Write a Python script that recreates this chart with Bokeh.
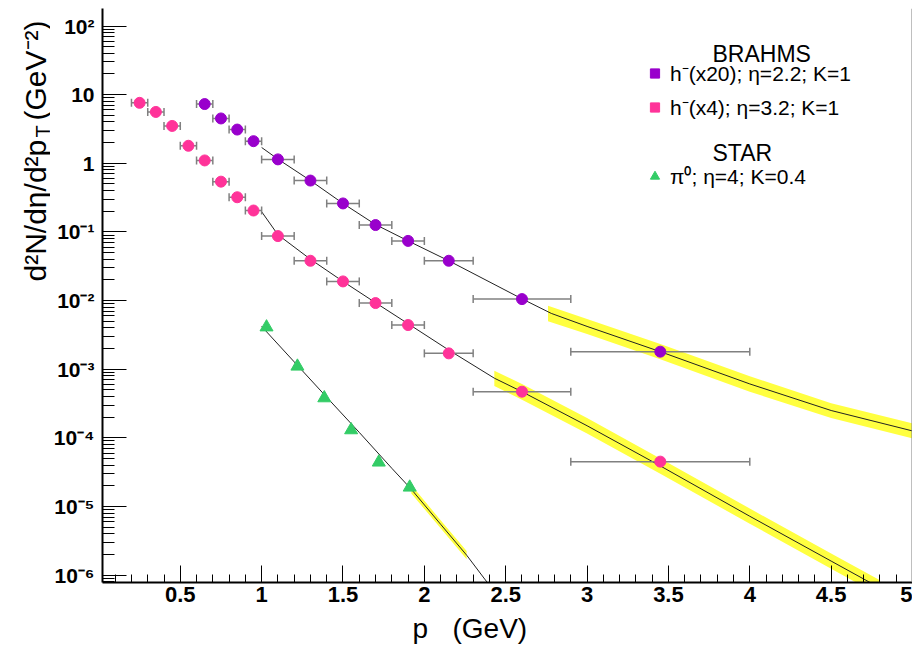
import math
from bokeh.plotting import figure
from bokeh.layouts import row, column
from bokeh.models import (Range1d, FixedTicker, CustomJSTickFormatter, Label,
                          Legend, LegendItem, Span)
from bokeh.embed import file_html
from bokeh.resources import INLINE

# ---------------- data ----------------
# BRAHMS h- (x20), eta = 2.2
h20_pt = [0.65, 0.75, 0.85, 0.95, 1.1, 1.3, 1.5, 1.7, 1.9, 2.15, 2.6, 3.45]
h20_y = [7.3, 4.5, 3.1, 2.1, 1.14, 0.56, 0.26, 0.126, 0.074, 0.038, 0.0105, 0.0018]
h20_xerr = [0.05, 0.05, 0.05, 0.05, 0.1, 0.1, 0.1, 0.1, 0.1, 0.15, 0.3, 0.55]

# BRAHMS h- (x4), eta = 3.2
h4_pt = [0.25, 0.35, 0.45, 0.55, 0.65, 0.75, 0.85, 0.95, 1.1, 1.3, 1.5, 1.7,
         1.9, 2.15, 2.6, 3.45]
h4_y = [7.6, 5.6, 3.5, 1.8, 1.1, 0.54, 0.32, 0.205, 0.087, 0.038, 0.019, 0.0092,
        0.0044, 0.0017, 0.00047, 0.000045]
h4_xerr = [0.05, 0.05, 0.05, 0.05, 0.05, 0.05, 0.05, 0.05, 0.1, 0.1, 0.1, 0.1,
           0.1, 0.15, 0.3, 0.55]

# STAR pi0, eta = 4
pi0_pt = [1.03, 1.22, 1.385, 1.55, 1.72, 1.91]
pi0_y = [4.1e-3, 1.1e-3, 3.8e-4, 1.3e-4, 4.4e-5, 1.9e-5]

# theory curves
fit20_x = [1.0, 1.1, 1.3, 1.5, 1.7, 1.9, 2.15, 2.6, 2.78, 3.0, 3.45, 4.0, 4.5, 5.0]
fit20_y = [1.7, 1.15, 0.56, 0.26, 0.128, 0.074, 0.038, 0.0106, 6.5e-3, 4.2e-3,
           1.8e-3, 6.1e-4, 2.5e-4, 1.26e-4]
fit4_x = [1.0, 1.1, 1.3, 1.5, 1.7, 1.9, 2.15, 2.43, 2.6, 3.0, 3.45, 4.0, 4.5, 4.8]
fit4_y = [0.197, 0.091, 0.040, 0.019, 9.3e-3, 4.6e-3, 1.9e-3, 7.4e-4, 4.7e-4,
          1.5e-4, 3.9e-5, 7.2e-6, 1.6e-6, 6.5e-7]
fitpi_x = [1.0, 1.2, 1.4, 1.6, 1.8, 1.92, 2.1, 2.26, 2.4]
fitpi_y = [4.2e-3, 1.28e-3, 3.9e-4, 1.2e-4, 3.6e-5, 1.78e-5, 5.5e-6, 1.95e-6, 7.1e-7]

# uncertainty bands
band20_x = [2.76, 3.0, 3.45, 4.0, 4.5, 5.0]
band20_lo = [5.0e-3, 3.26e-3, 1.40e-3, 4.7e-4, 1.94e-4, 0.98e-4]
band20_hi = [8.4e-3, 5.4e-3, 2.32e-3, 7.9e-4, 3.2e-4, 1.62e-4]
band4_x = [2.43, 2.6, 3.0, 3.45, 4.0, 4.5, 4.8]
band4_lo = [5.7e-4, 3.6e-4, 1.16e-4, 3.0e-5, 5.6e-6, 1.24e-6, 5.0e-7]
band4_hi = [9.5e-4, 6.1e-4, 1.94e-4, 5.0e-5, 9.3e-6, 2.06e-6, 8.4e-7]
bandpi_x = [1.92, 2.1, 2.26]
bandpi_lo = [1.55e-5, 4.8e-6, 1.7e-6]
bandpi_hi = [2.05e-5, 6.3e-6, 2.25e-6]

# ticks / labels
xtick_values = [0.5, 1.0, 1.5, 2.0, 2.5, 3.0, 3.5, 4.0, 4.5, 5.0]
xtick_labels = ["0.5", "1", "1.5", "2", "2.5", "3", "3.5", "4", "4.5", "5"]
ytick_values = [1e-6, 1e-5, 1e-4, 1e-3, 1e-2, 1e-1, 1.0, 10.0, 100.0]
ytick_labels = ["10⁻⁶", "10⁻⁵", "10⁻⁴", "10⁻³", "10⁻²", "10⁻¹", "1", "10", "10²"]
legend_headers = ["BRAHMS", "STAR"]
legend_labels = ["h⁻(x20); η=2.2; K=1", "h⁻(x4); η=3.2; K=1", "π⁰; η=4; K=0.4"]
x_title = ["p", "(GeV)"]
y_title = ["d²N/dη/d²p", "T", "(GeV⁻²)"]

# ---------------- style ----------------
PURPLE = "#9900cc"
PINK = "#ff3399"
GREEN = "#33cc66"
YELLOW = "#ffff40"
GRAY = "#808080"
FONT = "Liberation Sans"

TOP_H = 612
LEFT_W = 50
TOTAL_W = 912

p = figure(width=TOTAL_W - LEFT_W, height=TOP_H, x_range=Range1d(0.022, 5.0),
           y_range=Range1d(7.8e-7, 180), y_axis_type="log",
           output_backend="svg", toolbar_location=None,
           min_border_left=50, min_border_right=0, min_border_top=8,
           min_border_bottom=30, outline_line_color=None,
           background_fill_color="white", border_fill_color="white")
p.grid.visible = False

xminor = [round(0.1 * k, 1) for k in range(1, 50) if k % 5 != 0]
yminor = [m * 10.0 ** e for e in range(-7, 3) for m in range(2, 10)]

xax = p.xaxis[0]
xax.ticker = FixedTicker(ticks=xtick_values, minor_ticks=xminor)
xax.formatter = CustomJSTickFormatter(
    args=dict(vals=xtick_values, labs=xtick_labels),
    code="for (let i = 0; i < vals.length; i++) { if (Math.abs(tick - vals[i]) < 1e-9) return labs[i]; } return '';")
yax = p.yaxis[0]
yax.ticker = FixedTicker(ticks=ytick_values, minor_ticks=yminor)
yax.formatter = CustomJSTickFormatter(
    args=dict(vals=ytick_values, labs=ytick_labels),
    code="for (let i = 0; i < vals.length; i++) { if (Math.abs(Math.log10(tick) - Math.log10(vals[i])) < 1e-6) return labs[i]; } return '';")

for ax in (xax, yax):
    ax.axis_line_width = 2
    ax.axis_line_color = "black"
    ax.major_tick_out = 0
    ax.minor_tick_out = 0
    ax.major_tick_line_color = "black"
    ax.minor_tick_line_color = "black"
    ax.major_label_text_font = FONT
    ax.major_label_text_font_style = "bold"
    ax.major_label_text_color = "black"
xax.major_label_text_font_size = "22px"
yax.major_label_text_font_size = "21px"
xax.major_tick_in = 17
xax.minor_tick_in = 8
xax.major_label_standoff = 4
yax.major_tick_in = 24
yax.minor_tick_in = 12
yax.major_label_standoff = 8

p.add_layout(Span(location=5.0, dimension="height", line_color=GRAY, line_width=2))

# bands
p.varea(x=band20_x, y1=band20_lo, y2=band20_hi, fill_color=YELLOW)
p.varea(x=band4_x, y1=band4_lo, y2=band4_hi, fill_color=YELLOW)
p.varea(x=bandpi_x, y1=bandpi_lo, y2=bandpi_hi, fill_color=YELLOW)

# theory lines
for fx, fy in ((fit20_x, fit20_y), (fit4_x, fit4_y), (fitpi_x, fitpi_y)):
    p.line(fx, fy, line_color="#222222", line_width=1)

# error bars
for xs, ys, es in ((h20_pt, h20_y, h20_xerr), (h4_pt, h4_y, h4_xerr)):
    lo = [x - e for x, e in zip(xs, es)]
    hi = [x + e for x, e in zip(xs, es)]
    p.segment(x0=lo, y0=ys, x1=hi, y1=ys, line_color=GRAY, line_width=1.5)
    p.scatter(x=lo + hi, y=ys + ys, marker="dash", angle=math.pi / 2, size=8,
              line_color=GRAY, line_width=1.5)

# markers
p.scatter(h20_pt, h20_y, marker="circle", size=11, fill_color=PURPLE, line_color=PURPLE)
p.scatter(h4_pt, h4_y, marker="circle", size=11, fill_color=PINK, line_color=PINK)
p.scatter(pi0_pt, pi0_y, marker="triangle", size=13, fill_color=GREEN, line_color=GREEN)

# legend glyph renderers (one invisible NaN point each, so the legend draws them)
nan = [float("nan")]
r1 = p.scatter(x=nan, y=nan, marker="square", fill_color=PURPLE, line_color=PURPLE)
r2 = p.scatter(x=nan, y=nan, marker="square", fill_color=PINK, line_color=PINK)
r3 = p.scatter(x=nan, y=nan, marker="triangle", fill_color=GREEN, line_color=GREEN)

common = dict(glyph_width=23, glyph_height=24, label_height=24, label_standoff=4,
              spacing=6, padding=0, margin=0, border_line_alpha=0,
              background_fill_alpha=0, label_text_font=FONT,
              label_text_font_size="21px", label_text_color="black")
legA = Legend(items=[LegendItem(label=legend_labels[0], renderers=[r1]),
                     LegendItem(label=legend_labels[1], renderers=[r2])],
              location=(541, 461), **common)
legB = Legend(items=[LegendItem(label=legend_labels[2], renderers=[r3])],
              location=(541, 392), **common)
p.add_layout(legA)
p.add_layout(legB)

hdr = dict(x_units="screen", y_units="screen", text_font=FONT, text_font_size="23px",
           text_baseline="alphabetic", text_color="black")
p.add_layout(Label(text=legend_headers[0], x=610, y=529, **hdr))
p.add_layout(Label(text=legend_headers[1], x=610, y=430, **hdr))

# ---------------- y title panel (its frame lines up with the main frame) ----------------
yt_fig = figure(width=LEFT_W, height=TOP_H, x_range=Range1d(0, 1), y_range=Range1d(0, 1),
                x_axis_type=None, y_axis_type=None, output_backend="svg",
                toolbar_location=None, min_border=0, outline_line_color=None)
yt_fig.grid.visible = False
yt = dict(x_units="screen", y_units="screen", text_font=FONT, angle=90,
          angle_units="deg", text_baseline="alphabetic", text_align="left",
          text_color="black")
yt_fig.add_layout(Label(text=y_title[0], x=35, y=301, text_font_size="30px", **yt))
yt_fig.add_layout(Label(text=y_title[1], x=42, y=445, text_font_size="20px", **yt))
yt_fig.add_layout(Label(text=y_title[2], x=35, y=462, text_font_size="30px", **yt))

# ---------------- x title panel ----------------
xt_fig = figure(width=TOTAL_W, height=646 - TOP_H, x_range=Range1d(0, 1), y_range=Range1d(0, 1),
                x_axis_type=None, y_axis_type=None, output_backend="svg",
                toolbar_location=None, min_border=0, outline_line_color=None)
xt_fig.grid.visible = False
xt = dict(x_units="screen", y_units="screen", text_font=FONT, text_font_size="28px",
          text_baseline="alphabetic", text_color="black")
xt_fig.add_layout(Label(text=x_title[0], x=412, y=18, **xt))
xt_fig.add_layout(Label(text=x_title[1], x=452, y=18, **xt))

layout = column(row(yt_fig, p, spacing=0), xt_fig, spacing=0)
open("out.html", "w").write(file_html(layout, INLINE))
